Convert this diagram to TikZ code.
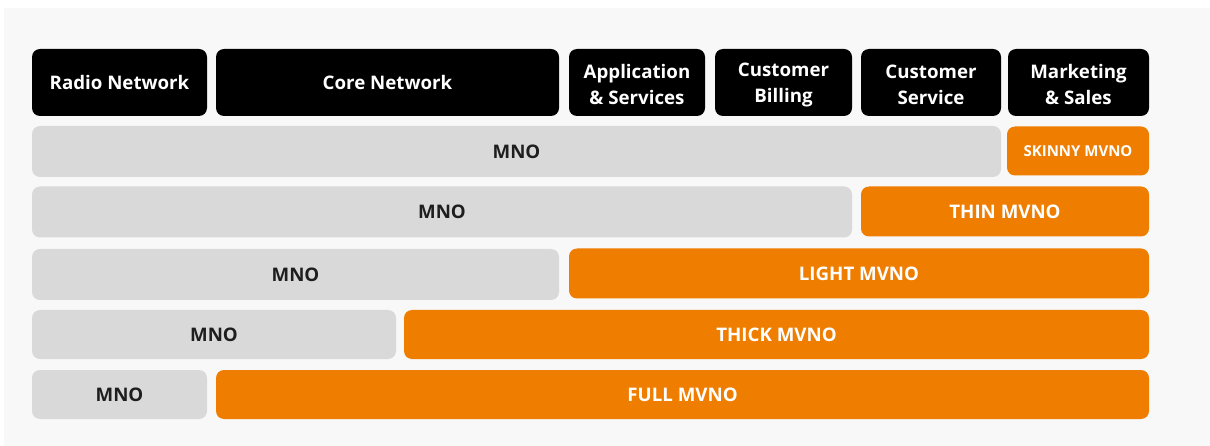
\documentclass[tikz,border=0pt]{standalone}
\usepackage{fontspec}
\setmainfont{Open Sans}
\definecolor{bgc}{HTML}{F8F8F8}
\definecolor{mvno}{HTML}{EF7D00}
\definecolor{mno}{HTML}{D9D9D9}
\definecolor{mnotext}{HTML}{1E1E1E}
\begin{document}
\begin{tikzpicture}[x=1pt,y=-1pt,
  txt/.style={inner sep=0pt, align=center, font=\fontsize{18.7}{26}\selectfont\bfseries},
  cell/.style={rounded corners=8pt, txt},
  head/.style={cell, fill=black, text=white, minimum height=67pt},
  headlbl/.style={txt, text=white, yshift=-2pt},
  mnobox/.style={cell, fill=mno, text=mnotext},
  mvnobox/.style={cell, fill=mvno, text=white}]
\useasboundingbox (0,0) rectangle (1210,446);
\fill[bgc] (4,8) rectangle (1210,446);
% header row
\node[head, minimum width=175pt] (radio) at (119.5,82.5) {Radio Network};
\node[head, minimum width=343pt] (core) at (387.5,82.5) {Core Network};
\node[head, minimum width=136pt, label={[headlbl]center:{Application\\\& Services}}] (app) at (637,82.5) {};
\node[head, minimum width=137pt, label={[headlbl]center:{Customer\\Billing}}] (billing) at (783.5,82.5) {};
\node[head, minimum width=140pt, label={[headlbl]center:{Customer\\Service}}] (service) at (931,82.5) {};
\node[head, minimum width=141pt, label={[headlbl]center:{Marketing\\\& Sales}}] (mkt) at (1078.5,82.5) {};
% row 1
\node[mnobox, minimum width=969pt, minimum height=51pt] (mno1) at (516.5,151.5) {MNO};
\node[mvnobox, minimum width=142pt, minimum height=49pt, font=\fontsize{15}{17}\selectfont\bfseries] (skinny) at (1078,151) {SKINNY MVNO};
% row 2
\node[mnobox, minimum width=820pt, minimum height=51pt] (mno2) at (442,212) {MNO};
\node[mvnobox, minimum width=288pt, minimum height=50pt] (thin) at (1005,211.5) {THIN MVNO};
% row 3
\node[mnobox, minimum width=527pt, minimum height=51pt] (mno3) at (295.5,274.5) {MNO};
\node[mvnobox, minimum width=580pt, minimum height=50pt] (light) at (859,273.5) {LIGHT MVNO};
% row 4
\node[mnobox, minimum width=364pt, minimum height=49pt] (mno4) at (214,334.5) {MNO};
\node[mvnobox, minimum width=745pt, minimum height=49pt] (thick) at (776.5,334.5) {THICK MVNO};
% row 5
\node[mnobox, minimum width=175pt, minimum height=49pt] (mno5) at (119.5,394.5) {MNO};
\node[mvnobox, minimum width=933pt, minimum height=49pt] (full) at (682.5,394.5) {FULL MVNO};
\end{tikzpicture}
\end{document}
